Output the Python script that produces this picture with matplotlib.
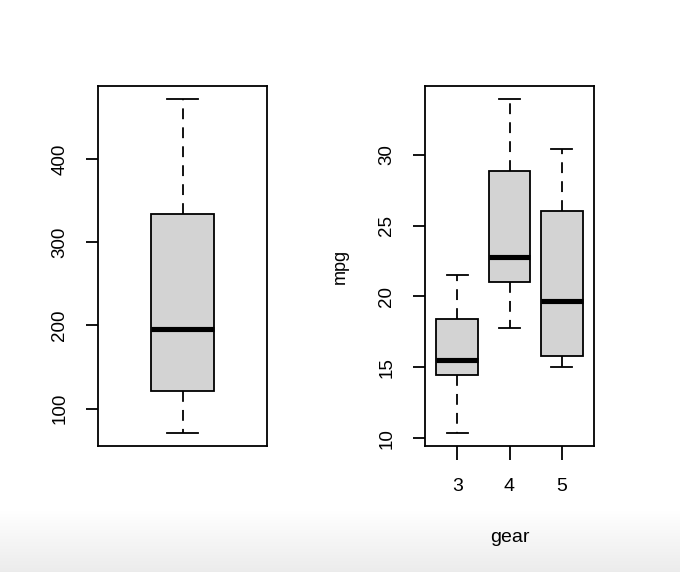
import numpy as np
import matplotlib.pyplot as plt

plt.rcParams['font.family'] = ['Liberation Sans', 'DejaVu Sans']

# five-number summaries
disp_stats = [71.1, 120.65, 196.3, 334.0, 472.0]

gears = ['3', '4', '5']
mpg_lo = [10.4, 17.8, 15.0]
mpg_q1 = [14.5, 21.0, 15.8]
mpg_med = [15.5, 22.8, 19.7]
mpg_q3 = [18.4, 28.85, 26.0]
mpg_hi = [21.5, 33.9, 30.4]


def makeStats(lo, q1, med, q3, hi):
    return {'whislo': lo, 'q1': q1, 'med': med, 'q3': q3, 'whishi': hi, 'fliers': []}


def drawBoxes(ax, stats, widths):
    ax.bxp(stats, positions=range(1, len(stats) + 1), widths=widths,
           capwidths=[w * 0.5 for w in widths], patch_artist=True, showfliers=False,
           boxprops=dict(facecolor='#D3D3D3', edgecolor='black', linewidth=1.3),
           medianprops=dict(color='black', linewidth=3.7, solid_capstyle='butt'),
           whiskerprops=dict(color='black', linewidth=1.3, linestyle=(0, (6, 4.5))),
           capprops=dict(color='black', linewidth=1.3))


W, H = 680, 572
fig = plt.figure(figsize=(W / 100, H / 100), dpi=100)

# light gradient strip at the bottom of the screenshot
grad = fig.add_axes([0, 0, 1, 62 / H], zorder=-1)
g = np.linspace(1.0, 0.925, 50).reshape(-1, 1)
grad.imshow(np.dstack([g, g, g]), aspect='auto', extent=[0, 1, 0, 1])
grad.axis('off')

ax1 = fig.add_axes([98 / W, (H - 446) / H, 169 / W, 360 / H])
ax2 = fig.add_axes([425 / W, (H - 446) / H, 169 / W, 360 / H])

drawBoxes(ax1, [makeStats(*disp_stats)], [0.4])
ax1.set_xlim(0.46, 1.54)
ax1.set_ylim(55.06, 488.04)
ax1.set_xticks([])
ax1.set_yticks([100, 200, 300, 400])

stats = [makeStats(*s) for s in zip(mpg_lo, mpg_q1, mpg_med, mpg_q3, mpg_hi)]
drawBoxes(ax2, stats, [0.8] * 3)
ax2.set_xlim(0.38, 3.62)
ax2.set_ylim(9.46, 34.84)
ax2.set_xticks([1, 2, 3])
ax2.set_xticklabels(gears)
ax2.set_yticks([10, 15, 20, 25, 30])
ax2.set_xlabel('gear', fontsize=14, va='center')
ax2.xaxis.set_label_coords(0.5, -0.254)
ax2.set_ylabel('mpg', fontsize=13, va='center')
ax2.yaxis.set_label_coords(-0.50, 0.5)

for ax in (ax1, ax2):
    for s in ax.spines.values():
        s.set_linewidth(1.3)
    ax.tick_params(axis='y', length=8.5, width=1.3, labelsize=13.5, pad=13)
    ax.tick_params(axis='x', length=10, width=1.3, labelsize=14, pad=13)
    for lab in ax.get_yticklabels():
        lab.set_rotation(90)
        lab.set_verticalalignment('center')

fig.savefig('out.png', dpi=100)
